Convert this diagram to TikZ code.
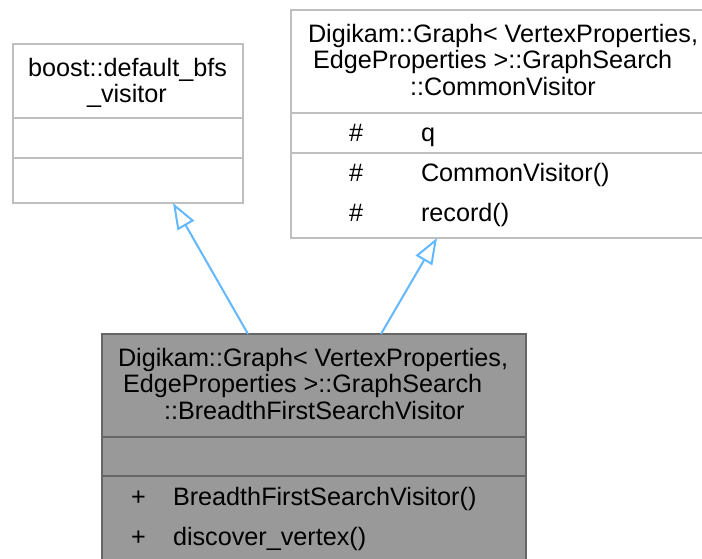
\documentclass[tikz,border=0pt]{standalone}
\usepackage{fontspec}
\setmainfont{Liberation Sans}
\usetikzlibrary{arrows.meta}
\definecolor{edgeblue}{HTML}{63B8FF}
\definecolor{lightborder}{HTML}{BFBFBF}
\definecolor{darkborder}{HTML}{666666}
\definecolor{darkfill}{HTML}{999999}
\begin{document}
\begin{tikzpicture}[x=1pt,y=-1pt,
  lightbox/.style={draw=lightborder, fill=white, line width=1.8pt, rectangle, inner sep=0pt, outer sep=0pt, anchor=north west},
  darkbox/.style={draw=darkborder, fill=darkfill, line width=1.8pt, rectangle, inner sep=0pt, outer sep=0pt, anchor=north west},
  lightsep/.style={draw=lightborder, line width=1.8pt},
  darksep/.style={draw=darkborder, line width=1.8pt},
  txt/.style={anchor=base west, inner sep=0pt, outer sep=0pt, font=\fontsize{25.2}{27}\selectfont},
  inh/.style={draw=edgeblue, line width=2pt, -{Triangle[open,length=26pt,width=19pt,fill=white]}}
]
\clip (0,0) rectangle (702,558);
\fill[white] (0,0) rectangle (702,558);

% box 1: boost::default_bfs_visitor
\node[lightbox, minimum width=230pt, minimum height=159pt] (b1) at (13,44) {};
\draw[lightsep] (b1.west |- 0,118) -- (b1.east |- 0,118);
\draw[lightsep] (b1.west |- 0,158) -- (b1.east |- 0,158);
\node[txt] (b1t1) at (28,76) {boost::default\_bfs};
\node[txt] (b1t2) at (87,102) {\_visitor};

% box 2: CommonVisitor
\node[lightbox, minimum width=420pt, minimum height=228pt] (b2) at (291,10) {};
\draw[lightsep] (b2.west |- 0,113) -- (b2.east |- 0,113);
\draw[lightsep] (b2.west |- 0,153) -- (b2.east |- 0,153);
\node[txt] (b2t1) at (308,42) {Digikam::Graph< VertexProperties,};
\node[txt] (b2t2) at (313,68.5) {EdgeProperties >::GraphSearch};
\node[txt] (b2t3) at (410,95) {::CommonVisitor};
\node[txt] (b2p1) at (349,141) {\#};
\node[txt] (b2m1) at (421,141) {q};
\node[txt] (b2p2) at (349,181) {\#};
\node[txt] (b2m2) at (421,181) {CommonVisitor()};
\node[txt] (b2p3) at (349,221) {\#};
\node[txt] (b2m3) at (421,221) {record()};

% box 3: BreadthFirstSearchVisitor
\node[darkbox, minimum width=424pt, minimum height=240pt] (b3) at (102,334) {};
\draw[darksep] (b3.west |- 0,437) -- (b3.east |- 0,437);
\draw[darksep] (b3.west |- 0,476) -- (b3.east |- 0,476);
\node[txt] (b3t1) at (118,366) {Digikam::Graph< VertexProperties,};
\node[txt] (b3t2) at (123,392.5) {EdgeProperties >::GraphSearch};
\node[txt] (b3t3) at (164,419) {::BreadthFirstSearchVisitor};
\node[txt] (b3p1) at (131,505) {+};
\node[txt] (b3m1) at (173,505) {BreadthFirstSearchVisitor()};
\node[txt] (b3p2) at (131,545) {+};
\node[txt] (b3m2) at (173,545) {discover\_vertex()};

% inheritance connectors
\coordinate (s1) at (248,334);
\coordinate (e1) at (173,203);
\coordinate (s2) at (381,334);
\coordinate (e2) at (437,238);
\draw[inh] (s1) -- (e1);
\draw[inh] (s2) -- (e2);
\end{tikzpicture}
\end{document}
